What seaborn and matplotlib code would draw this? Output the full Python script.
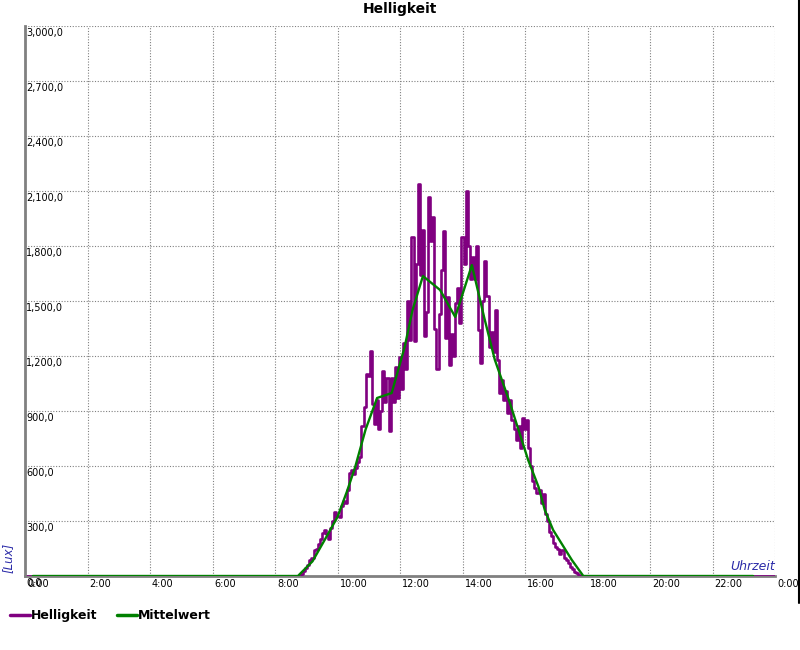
import numpy as np
import pandas as pd
import matplotlib
matplotlib.use("Agg")
import matplotlib.pyplot as plt
from matplotlib.lines import Line2D
from matplotlib.transforms import ScaledTranslation
import seaborn as sns

# ---------------- data ----------------
title = "Helligkeit"
y_label = "[Lux]"
x_label = "Uhrzeit"
series_names = ["Helligkeit", "Mittelwert"]

# Helligkeit: 4-minute samples from 08:48 to 17:48 (Lux), zero outside
hell_start = "08:48"
hell_step_min = 4
hell_lux = [
    0, 10, 30, 45, 60, 85, 100, 140, 150, 175,
    200, 235, 250, 230, 200, 260, 300, 350, 330, 320,
    380, 410, 400, 470, 560, 580, 555, 590, 620, 650,
    820, 920, 1100, 1090, 1230, 940, 830, 960, 800, 900,
    1120, 950, 1080, 790, 1080, 950, 1140, 970, 1195, 1020,
    1270, 1130, 1500, 1290, 1850, 1280, 1700, 2140, 1640, 1890,
    1310, 1440, 2070, 1830, 1960, 1350, 1130, 1430, 1670, 1880,
    1300, 1520, 1150, 1320, 1200, 1490, 1570, 1380, 1850, 1700,
    2100, 1800, 1620, 1740, 1620, 1800, 1340, 1160, 1500, 1720,
    1530, 1250, 1330, 1220, 1450, 1180, 1000, 1070, 960, 1010,
    890, 960, 850, 800, 740, 820, 700, 860, 800, 850,
    700, 600, 520, 480, 455, 470, 400, 450, 340, 300,
    240, 220, 180, 160, 150, 120, 140, 100, 90, 70,
    50, 40, 20, 15, 5, 0,
]

# Mittelwert (average curve)
mittel_times = ["00:15", "08:44", "09:12", "09:36", "10:00", "10:18", "10:34",
                "10:54", "11:16", "11:44", "12:09", "12:24", "12:44", "13:17",
                "13:46", "14:18", "14:42", "15:02", "15:31", "16:06", "16:26",
                "16:38", "16:54", "17:30", "17:52", "23:18"]
mittel_lux = [0, 0, 80, 200, 322, 460, 595,
              800, 971, 998, 1250, 1450, 1636, 1560,
              1413, 1696, 1406, 1180, 944, 633, 486,
              360, 251, 87, 0, 0]

y_ticks = [0, 300, 600, 900, 1200, 1500, 1800, 2100, 2400, 2700, 3000]
y_tick_labels = ["0,0", "300,0", "600,0", "900,0", "1,200,0", "1,500,0",
                 "1,800,0", "2,100,0", "2,400,0", "2,700,0", "3,000,0"]
x_ticks = [0, 2, 4, 6, 8, 10, 12, 14, 16, 18, 20, 22, 24]
x_tick_labels = ["0:00", "2:00", "4:00", "6:00", "8:00", "10:00", "12:00",
                 "14:00", "16:00", "18:00", "20:00", "22:00", "0:00"]


def to_hours(s):
    h, m = s.split(":")
    return int(h) + int(m) / 60.0


h0 = to_hours(hell_start)
hell_hours = [0.0] + [h0 + i * hell_step_min / 60.0 for i in range(len(hell_lux))] + [24.0]
hell_vals = [0] + hell_lux + [0]
df_h = pd.DataFrame({"Uhrzeit": hell_hours, "Lux": hell_vals})
df_m = pd.DataFrame({"Uhrzeit": [to_hours(t) for t in mittel_times], "Lux": mittel_lux})

# ---------------- style ----------------
sns.set_style("white")
plt.rcParams["font.family"] = ["DejaVu Sans"]

purple = "#800080"
green = "#008000"
blue_txt = "#2b2ba8"

fig = plt.figure(figsize=(8, 6.5), dpi=100)
ax = fig.add_axes([25 / 800, 1 - 576 / 650, 750 / 800, 550 / 650])

sns.lineplot(data=df_h, x="Uhrzeit", y="Lux", ax=ax, color=purple, lw=1.9,
             sort=False, estimator=None, zorder=3, drawstyle="steps-mid")
sns.lineplot(data=df_m, x="Uhrzeit", y="Lux", ax=ax, color=green, lw=1.7,
             sort=False, estimator=None, zorder=4)

ax.set_xlim(0, 24)
ax.set_ylim(0, 3000)
ax.set_xlabel("")
ax.set_ylabel("")

ax.set_yticks(y_ticks)
ax.set_yticklabels(y_tick_labels)
ax.set_xticks(x_ticks)
ax.set_xticklabels(x_tick_labels)

ax.grid(True, color="#808080", linestyle=(0, (1, 1.5)), lw=0.8)
for side in ["top", "right"]:
    ax.spines[side].set_visible(False)
ax.spines["left"].set_color("#808080")
ax.spines["left"].set_linewidth(2)
ax.spines["bottom"].set_color("#808080")
ax.spines["bottom"].set_linewidth(2)
ax.spines["left"].set_zorder(5)

ax.tick_params(axis="both", length=0, labelsize=7, colors="black")
ax.tick_params(axis="y", pad=-1)
ax.tick_params(axis="x", pad=2)
for lab in ax.get_yticklabels():
    lab.set_horizontalalignment("left")
    lab.set_verticalalignment("top")
    lab.set_transform(lab.get_transform() + ScaledTranslation(0, -2 / 100, fig.dpi_scale_trans))
for lab in ax.get_xticklabels():
    lab.set_horizontalalignment("left")
    lab.set_transform(lab.get_transform() + ScaledTranslation(2 / 100, 0, fig.dpi_scale_trans))

ax.set_title(title, fontsize=10, fontweight="bold", pad=9, color="black")

ax.text(-17 / 750, 18 / 550, y_label, transform=ax.transAxes, rotation=90,
        ha="center", va="center", fontsize=8.5, style="italic", color=blue_txt)
ax.text(1.0, 3 / 550, x_label, transform=ax.transAxes, ha="right", va="bottom",
        fontsize=9, style="italic", color=blue_txt, zorder=6)

# right frame line
fig.add_artist(Line2D([799 / 800, 799 / 800], [1, 1 - 603 / 650],
                      transform=fig.transFigure, color="black", lw=1.5))

handles = [Line2D([], [], color=purple, lw=2.5), Line2D([], [], color=green, lw=2.5)]
leg = fig.legend(handles, series_names, loc="upper left",
                 bbox_to_anchor=(10 / 800, 1 - 609 / 650), ncol=2, frameon=False,
                 handlelength=1.6, handletextpad=0.05, columnspacing=1.6,
                 borderpad=0, borderaxespad=0,
                 prop={"weight": "bold", "size": 9})
for t in leg.get_texts():
    t.set_color("black")

fig.savefig("out.png", dpi=100)
